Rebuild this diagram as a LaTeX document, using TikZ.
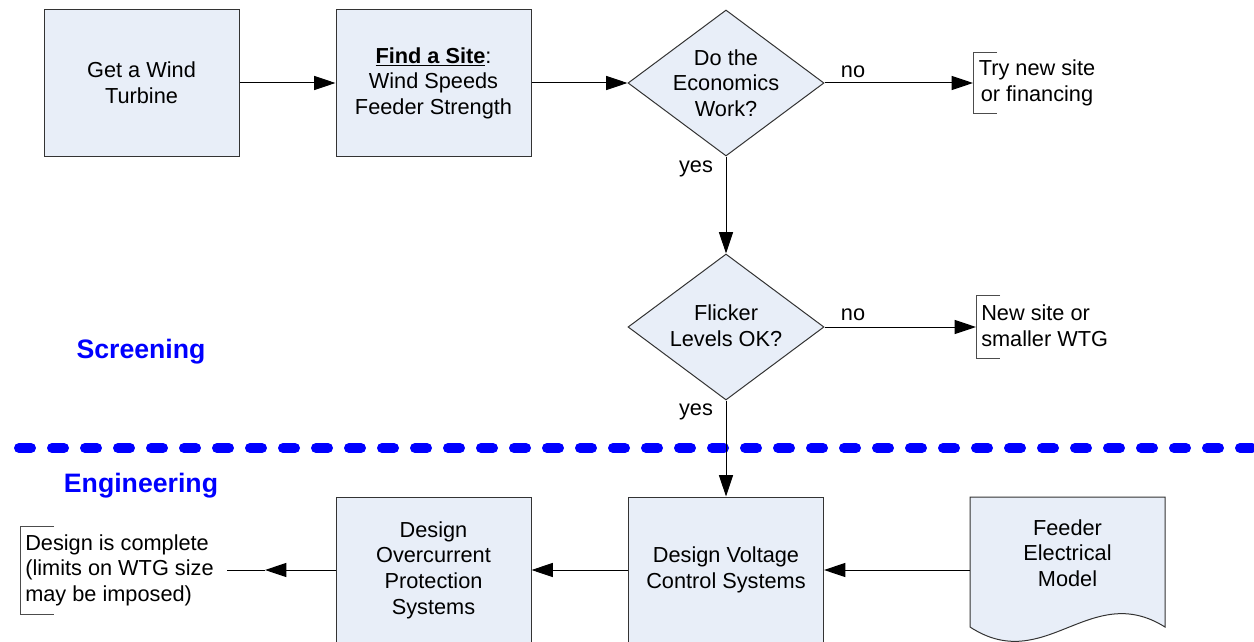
\documentclass[tikz,border=0pt]{standalone}
\usepackage{fontspec}
\setmainfont{Liberation Sans}
\usetikzlibrary{arrows.meta,shapes.geometric}
\definecolor{boxfill}{RGB}{232,238,248}
\definecolor{scrblue}{RGB}{0,0,255}
\begin{document}
\begin{tikzpicture}[x=0.75pt,y=-0.75pt,
  every node/.style={font=\fontsize{16.3}{19.2}\selectfont},
  box/.style={draw=black!80, fill=boxfill, line width=0.75pt, minimum width=146.25pt, minimum height=109.5pt, inner sep=0pt, align=center},
  dia/.style={draw=black!80, fill=boxfill, line width=0.75pt, diamond, minimum width=147pt, minimum height=109.5pt, inner sep=0pt, aspect=1.342},
  arr/.style={-{Triangle[length=16pt,width=10.5pt]}, line width=0.75pt},
  lbl/.style={align=center, inner sep=0pt},
  brk/.style={draw=black!70, line width=0.75pt},
  sect/.style={font=\bfseries\fontsize{20}{24}\selectfont, text=scrblue, inner sep=0pt}
  ]
\useasboundingbox (0,0) rectangle (1254,642);

% section divider
\draw[scrblue, line width=7.5pt, line cap=round, dash pattern=on 9pt off 15.75pt] (19,448) -- (1262,448);
\node[sect] (screen) at (141,352) {Screening};
\node[sect] (engin) at (141,486) {Engineering};

% top row
\node[box] (turbine) at (141.5,83) {Get a Wind\\Turbine};
\node[box] (site) at (433.5,83) {\underline{\textbf{Find a Site}}:\\Wind Speeds\\Feeder Strength};
\node[dia] (econ) at (726,83) {};
\node[lbl] (econt) at (726,83) {Do the\\Economics\\Work?};
\node[dia] (flick) at (726,327) {};
\node[lbl] (flickt) at (726,326) {Flicker\\Levels OK?};

% bottom row
\node[box] (volt) at (726,570) {Design Voltage\\Control Systems};
\node[box] (over) at (433.5,570) {Design\\Overcurrent\\Protection\\Systems};
\draw[draw=black!80, fill=boxfill, line width=0.75pt] (970,497) -- (1165,497) -- (1165,627)
  .. controls (1090,580) and (1045,676) .. (970,627) -- cycle;
\node[minimum width=146.25pt, minimum height=97.5pt, inner sep=0pt] (feeder) at (1067.5,562) {};
\node[lbl] (feedert) at (1067.5,553) {Feeder\\Electrical\\Model};

% annotations
\draw[brk] (997,53) -- (973,53) -- (973,114) -- (997,114);
\coordinate (tryc) at (973,83);
\node[lbl] (tryt) at (1037,83) {Try new site\\or financing};
\draw[brk] (1000,295) -- (976,295) -- (976,358) -- (1000,358);
\coordinate (newc) at (976,327);
\node[lbl, anchor=west, align=left] (newt) at (981,326) {New site or\\smaller WTG};
\draw[brk] (54,526) -- (20,526) -- (20,614) -- (54,614);
\coordinate (donetip) at (265,570);
\coordinate (doneend) at (227,570);
\node[lbl, anchor=west, align=left] (donet) at (25,570) {Design is complete\\(limits on WTG size\\may be imposed)};

% connectors
\draw[arr] (turbine.east) -- (site.west);
\draw[arr] (site.east) -- (econ.west);
\draw[arr] (econ.east) -- (tryc);
\draw[arr] (econ.south) -- (flick.north);
\draw[arr] (flick.east) -- (newc);
\draw[arr] (flick.south) -- (volt.north);
\draw[arr] (feeder.west |- volt.east) -- (volt.east);
\draw[arr] (volt.west) -- (over.east);
\draw[arr] (over.west) -- (donetip);
\draw[line width=0.75pt] (donetip) -- (doneend);

% labels
\node[lbl] (no1) at (853,72) {no};
\node[lbl] (no2) at (853,315) {no};
\node[lbl] (yes1) at (696,169) {yes};
\node[lbl] (yes2) at (696,412) {yes};
\end{tikzpicture}
\end{document}
